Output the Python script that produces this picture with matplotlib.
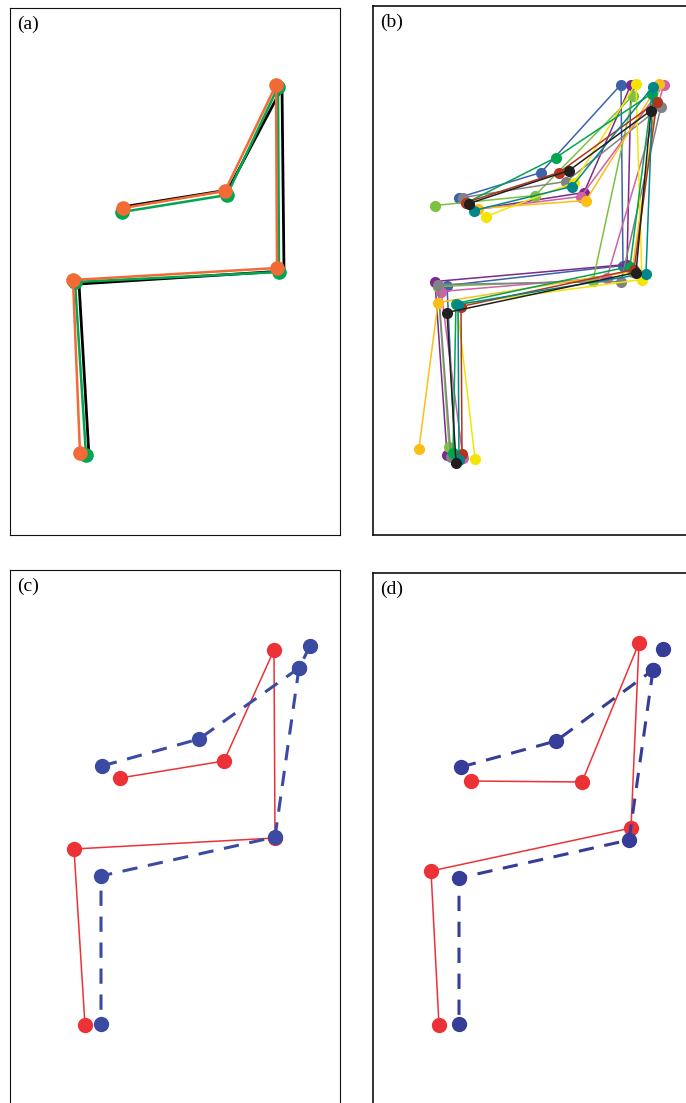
import matplotlib.pyplot as plt

FIG_W, FIG_H = 686, 1103
DPI = 100

# joint order for every skeleton: hand, elbow, shoulder, hip, knee, foot
# panel (a): three fits of the same pose
a_black_x = [112, 218, 272, 274, 69, 79]
a_black_y = [199, 182, 80, 263, 276, 448]
a_green_x = [112, 217, 268, 269, 65, 76]
a_green_y = [204, 187, 79, 264, 274, 447]
a_orange_x = [113, 215, 266, 267, 63, 70]
a_orange_y = [200, 183, 77, 260, 272, 445]

# panel (b): eleven skeletons
b_colors = ['#3C62AC', '#7A2B8C', '#7CC242', '#D062A6', '#808285', '#FDBE16',
            '#F2E600', '#00A54F', '#B0361E', '#00878A', '#231F20']
b_x = [
    [86, 168, 248, 250, 74, 82],     # blue
    [102, 211, 258, 254, 62, 74],    # purple
    [62, 162, 260, 220, 65, 76],     # light green
    [103, 208, 291, 234, 68, 90],    # pink
    [90, 193, 288, 248, 65, 78],     # gray
    [105, 213, 286, 259, 65, 46],    # orange-yellow
    [113, 201, 263, 269, 84, 102],   # yellow
    [94, 183, 279, 257, 83, 80],     # green
    [93, 186, 284, 261, 88, 89],     # red-brown
    [101, 199, 280, 273, 85, 86],    # teal
    [96, 196, 278, 263, 74, 83],     # black
]
b_y = [
    [192, 167, 79, 260, 280, 450],
    [204, 187, 79, 259, 276, 449],
    [200, 190, 90, 275, 281, 441],
    [204, 191, 79, 272, 286, 452],
    [192, 176, 101, 276, 279, 451],
    [203, 195, 78, 266, 297, 443],
    [211, 177, 78, 274, 299, 453],
    [197, 152, 88, 261, 298, 447],
    [197, 167, 96, 264, 301, 448],
    [205, 181, 81, 268, 299, 454],
    [198, 165, 105, 267, 307, 457],
]

# panels (c) and (d): red = estimate (6 joints), blue = reference (with head)
c_red_x = [110, 214, 264, 265, 64, 75]
c_red_y = [208, 191, 80, 268, 279, 455]
c_blue_arm_x = [92, 189, 289, 300]     # hand, elbow, shoulder, head
c_blue_arm_y = [196, 169, 98, 76]
c_blue_leg_x = [289, 265, 91, 91]      # shoulder, hip, knee, foot
c_blue_leg_y = [98, 267, 306, 454]

d_red_x = [98, 209, 266, 258, 58, 66]
d_red_y = [208, 209, 70, 255, 298, 452]
d_blue_arm_x = [88, 183, 280, 290]
d_blue_arm_y = [194, 168, 97, 76]
d_blue_leg_x = [280, 256, 86, 86]
d_blue_leg_y = [97, 267, 305, 451]


def make_panel(fig, left, top, width, height, label, spine_lw):
    # box given in pixels of the final image, data units are pixels inside the box
    ax = fig.add_axes([left / FIG_W, (FIG_H - top - height) / FIG_H,
                       width / FIG_W, height / FIG_H])
    ax.set_xlim(0, width)
    ax.set_ylim(height, 0)
    ax.set_xticks([])
    ax.set_yticks([])
    for s in ax.spines.values():
        s.set_linewidth(spine_lw)
        s.set_color('#111111')
    ax.text(7, 8, label, ha='left', va='top', fontsize=14,
            family=['Liberation Serif', 'DejaVu Serif'])
    return ax


def draw_a(ax):
    ax.plot(a_black_x, a_black_y, color='black', lw=2.0, zorder=2)
    ax.plot(a_green_x, a_green_y, color='#00A651', lw=1.8, marker='o',
            ms=9.5, zorder=3)
    ax.plot(a_orange_x, a_orange_y, color='#F26B36', lw=1.8, marker='o',
            ms=9.5, zorder=4)


def draw_b(ax):
    for xs, ys, c in zip(b_x, b_y, b_colors):
        ax.plot(xs, ys, color=c, lw=1.1, marker='o', ms=7)


def draw_pair(ax, red_x, red_y, arm_x, arm_y, leg_x, leg_y, blue):
    ax.plot(red_x, red_y, color='#ED3237', lw=1.1, marker='o', ms=10)
    for xs, ys in [(arm_x, arm_y), (leg_x, leg_y)]:
        ax.plot(xs, ys, color=blue, lw=2.2, ls=(0, (5, 3.5)), marker='o',
                ms=10)


def main():
    fig = plt.figure(figsize=(FIG_W / DPI, FIG_H / DPI), dpi=DPI)

    ax_a = make_panel(fig, 10, 8, 330, 527, '(a)', 0.8)
    ax_b = make_panel(fig, 373, 5.5, 330, 529.5, '(b)', 1.2)
    ax_c = make_panel(fig, 10, 570, 330, 545, '(c)', 0.8)
    ax_d = make_panel(fig, 373, 573, 330, 545, '(d)', 1.2)

    draw_a(ax_a)
    draw_b(ax_b)
    draw_pair(ax_c, c_red_x, c_red_y, c_blue_arm_x, c_blue_arm_y,
              c_blue_leg_x, c_blue_leg_y, '#3B4BA3')
    draw_pair(ax_d, d_red_x, d_red_y, d_blue_arm_x, d_blue_arm_y,
              d_blue_leg_x, d_blue_leg_y, '#363D98')

    fig.savefig('out.png', dpi=DPI)


if __name__ == '__main__':
    main()
